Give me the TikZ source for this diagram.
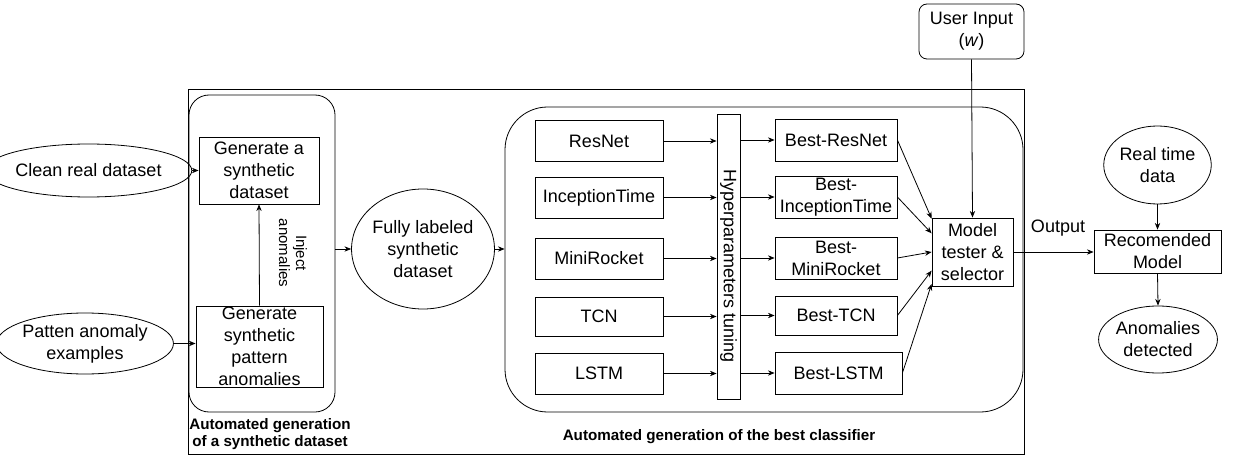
\documentclass[tikz,border=0pt]{standalone}
\usepackage{fontspec}
\setmainfont{Liberation Sans}
\usetikzlibrary{arrows.meta,shapes.geometric,calc}
\begin{document}
\begin{tikzpicture}[x=0.75pt,y=-0.75pt,
  line width=0.6pt,
  every node/.style={font=\fontsize{13.5}{16.5}\selectfont, align=center, inner sep=0pt},
  box/.style={draw, rectangle},
  oval/.style={draw, ellipse},
  arr/.style={-{Stealth[length=5pt,width=4pt]}},
  grp/.style={draw, rectangle},
  lbl/.style={font=\bfseries\fontsize{11.4}{12.75}\selectfont},
  small/.style={font=\fontsize{11.25}{12.75}\selectfont}
]
\useasboundingbox (0,0) rectangle (1249,456);

% containers
\draw (188,89) rectangle (1024,454);
\node[grp, rounded corners=15pt, minimum width=146*0.75pt, minimum height=317*0.75pt] (rr1) at (262,253.5) {};
\node[grp, rounded corners=32pt, minimum width=518*0.75pt, minimum height=305*0.75pt] (rr2) at (764,259.5) {};

% left part
\node[oval, minimum width=165*0.75pt, minimum height=53*0.75pt] (clean) at (88.5,170.5) {Clean real dataset};
\node[oval, minimum width=166*0.75pt, minimum height=61*0.75pt] (patten) at (85,343.5) {Patten anomaly\\examples};
\node[box, minimum width=120*0.75pt, minimum height=67*0.75pt] (gen1) at (259,170.5) {Generate a\\synthetic\\dataset};
\node[box, minimum width=127*0.75pt, minimum height=81*0.75pt] (gen2) at (259.5,346.5) {Generate\\synthetic\\pattern\\anomalies};
\node[small, rotate=-90] (inject) at (293,253) {Inject\\anomalies};
\node[lbl] (lab1) at (270,434) {Automated generation\\of a synthetic dataset};

\node[oval, minimum width=128*0.75pt, minimum height=120*0.75pt] (fully) at (423,249) {Fully labeled\\synthetic\\dataset};

% models
\node[box, minimum width=128*0.75pt, minimum height=41*0.75pt] (m1) at (599,141) {ResNet};
\node[box, minimum width=128*0.75pt, minimum height=41*0.75pt] (m2) at (599,197.5) {InceptionTime};
\node[box, minimum width=128*0.75pt, minimum height=41*0.75pt] (m3) at (599,258.5) {MiniRocket};
\node[box, minimum width=128*0.75pt, minimum height=39*0.75pt] (m4) at (599,316.5) {TCN};
\node[box, minimum width=128*0.75pt, minimum height=41*0.75pt] (m5) at (599,373.5) {LSTM};

\node[box, minimum width=23*0.75pt, minimum height=285*0.75pt] (hyper) at (728.5,256.5) {};
\node[rotate=-90] (hypertext) at (728.5,266) {Hyperparameters tuning};

\node[box, minimum width=122*0.75pt, minimum height=42*0.75pt] (b1) at (836,140) {Best-ResNet};
\node[box, minimum width=122*0.75pt, minimum height=42*0.75pt] (b2) at (836,197) {Best-\\InceptionTime};
\node[box, minimum width=122*0.75pt, minimum height=42*0.75pt] (b3) at (836,258) {Best-\\MiniRocket};
\node[box, minimum width=122*0.75pt, minimum height=39*0.75pt] (b4) at (836,315.5) {Best-TCN};
\node[box, minimum width=127*0.75pt, minimum height=42*0.75pt] (b5) at (838.5,373) {Best-LSTM};

\node[box, minimum width=81*0.75pt, minimum height=68*0.75pt] (tester) at (972.5,252) {Model\\tester \&\\selector};
\node[box, rounded corners=6pt, minimum width=105*0.75pt, minimum height=55*0.75pt] (user) at (971.5,31.5) {User Input\\(\textit{w})};
\node[lbl] (lab2) at (719,437) {Automated generation of the best classifier};

% right part
\node[box, minimum width=127*0.75pt, minimum height=43*0.75pt] (reco) at (1157.5,251.5) {Recomended\\Model};
\node[oval, minimum width=99*0.75pt, minimum height=78*0.75pt] (rt) at (1157.5,165) {Real time\\data};
\node[oval, minimum width=102*0.75pt, minimum height=67*0.75pt] (anom) at (1158,339.5) {Anomalies\\detected};
\node (outlbl) at (1058,228) {Output};

% connectors
\draw[arr] (clean.east) -- (gen1.west);
\draw[arr] (patten.east) -- (patten.east -| gen2.west);
\draw[arr] (gen2.north) -- (gen1.south);
\draw[arr] (fully.west -| rr1.east) -- (fully.west);
\draw[arr] (fully.east) -- (fully.east -| rr2.west);
\foreach \m in {m1,m2,m3,m4,m5}{
  \draw[arr] (\m.east) -- (\m.east -| hyper.west);
}
\foreach \b in {b1,b2,b3,b4,b5}{
  \draw[arr] (\b.west -| hyper.east) -- (\b.west);
}
\draw[arr] (b1.east) -- ([yshift=25pt]tester.west);
\draw[arr] (b2.east) -- ([yshift=14pt]tester.west);
\draw[arr] (b3.east) -- (tester.west);
\draw[arr] (b4.east) -- ([yshift=-14pt]tester.west);
\draw[arr] (b5.east) -- ([yshift=-24pt]tester.west);
\draw[arr] (user.south) -- (tester.north);
\draw[arr] (tester.east) -- (tester.east -| reco.west);
\draw[arr] (rt.south) -- (reco.north);
\draw[arr] (reco.south) -- (anom.north);
\end{tikzpicture}
\end{document}
